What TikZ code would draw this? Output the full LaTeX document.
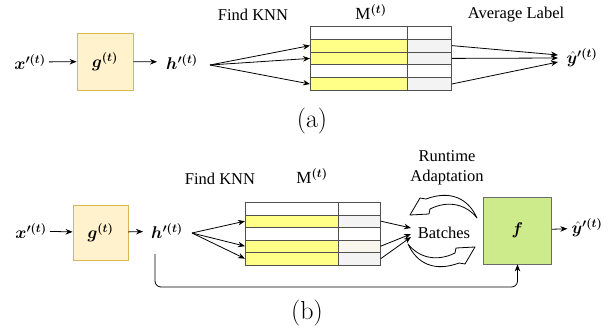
\RequirePackage{fix-cm}
\documentclass[tikz,border=0pt]{standalone}
\usepackage{fontspec}
\usepackage{bm}
\newfontfamily\tnr{Liberation Serif}
\usetikzlibrary{arrows.meta}
\definecolor{gfill}{HTML}{FFF2CC}
\definecolor{gborder}{HTML}{D6B656}
\definecolor{ffill}{HTML}{CDEB8B}
\definecolor{fborder}{HTML}{6B6B6B}
\definecolor{yel}{HTML}{FFFF88}
\definecolor{lgray}{HTML}{F3F3F3}
\definecolor{beige}{HTML}{F9F7ED}
\definecolor{cellline}{HTML}{505050}
\begin{document}
\begin{tikzpicture}[x=1pt,y=-1pt,
  lbl/.style={inner sep=0pt, font=\fontsize{17}{20}\selectfont},
  txt/.style={inner sep=0pt, font=\tnr\fontsize{16.5}{19}\selectfont},
  captxt/.style={inner sep=0pt, font=\fontsize{26}{30}\selectfont},
  arr/.style={-{Stealth[length=7pt,width=5.5pt]}, line width=0.8pt, black},
  gboxst/.style={draw=gborder, fill=gfill, line width=0.8pt, inner sep=0pt, font=\fontsize{17}{20}\selectfont},
  fboxst/.style={draw=fborder, fill=ffill, line width=0.8pt, inner sep=0pt, font=\fontsize{17}{20}\selectfont},
  cell/.style={draw=cellline, line width=0.8pt, inner sep=0pt, anchor=north west},
  curv/.style={draw=black, fill=white, line width=0.8pt, line join=round}]
\useasboundingbox (0,0) rectangle (611,335);

% ---------------- (a) ----------------
\node[lbl] (xa) at (30,62) {$\bm{x}^{\bm{\prime(t)}}$};
\node[gboxst, minimum width=56, minimum height=57] (ga) at (105,61.5) {$\bm{g}^{\bm{(t)}}$};
\node[lbl] (ha) at (182,62) {$\bm{h}^{\bm{\prime(t)}}$};
\draw[arr, shorten <=3pt] (xa) -- (ga);
\draw[arr, shorten >=9pt] (ga) -- (ha);

\node[txt] (knna) at (253,15) {Find KNN};
\node[lbl] (ma) at (371,12) {{\tnr M}$^{\bm{(t)}}$};
\node[txt] (avga) at (516,15) {Average Label};

\foreach \i/\y/\lf/\rf in {0/26/white/white, 1/38.8/yel/lgray, 2/51.6/yel/lgray, 3/64.4/white/white, 4/77.2/yel/lgray}{
  \node[cell, fill=\lf, minimum width=97, minimum height=12.8] (aL\i) at (310,\y) {};
  \node[cell, fill=\rf, minimum width=44, minimum height=12.8] (aR\i) at (407,\y) {};
}

\coordinate (hfa) at (210,65);
\draw[arr] (hfa) -- (aL1.west);
\draw[arr] (hfa) -- (aL2.west);
\draw[arr] (hfa) -- (aL4.west);

\coordinate (ya1) at (558,55);
\coordinate (ya2) at (558,58);
\coordinate (ya3) at (558,62);
\draw[arr] (aR1.east) -- (ya1);
\draw[arr] (aR2.east) -- (ya2);
\draw[arr] (aR4.east) -- (ya3);
\node[lbl] (yha) at (582,58) {$\bm{\hat{y}}^{\bm{\prime(t)}}$};

\node[captxt] (capa) at (312,121) {(a)};

% ---------------- (b) ----------------
\node[lbl] (xb) at (31,231) {$\bm{x}^{\bm{\prime(t)}}$};
\node[gboxst, minimum width=55, minimum height=55] (gb) at (100.5,232.5) {$\bm{g}^{\bm{(t)}}$};
\node[lbl] (hb) at (167,231) {$\bm{h}^{\bm{\prime(t)}}$};
\draw[arr, shorten <=3pt] (xb) -- (gb);
\draw[arr, shorten >=8pt] (gb) -- (hb);

\node[txt] (knnb) at (220,179) {Find KNN};
\node[lbl] (mb) at (312,176) {{\tnr M}$^{\bm{(t)}}$};

\foreach \i/\y/\lf/\rf in {0/202/white/white, 1/214.5/yel/lgray, 2/227/white/white, 3/239.5/yel/beige, 4/252/yel/lgray}{
  \node[cell, fill=\lf, minimum width=93, minimum height=12.5] (bL\i) at (245,\y) {};
  \node[cell, fill=\rf, minimum width=42, minimum height=12.5] (bR\i) at (338,\y) {};
}

\coordinate (hfb) at (192,233);
\draw[arr] (hfb) -- (bL1.west);
\draw[arr] (hfb) -- (bL3.west);
\draw[arr] (hfb) -- (bL4.west);

\node[txt] (bat) at (444,233) {Batches};
\node[txt, align=center, font=\tnr\fontsize{16.5}{20}\selectfont] (rta) at (447,168) {Runtime\\Adaptation};

\coordinate (bt1) at (411,228);
\coordinate (bt2) at (411,234);
\coordinate (bt3) at (411,237);
\draw[arr] (bR1.east) -- (bt1);
\draw[arr] (bR3.east) -- (bt2);
\draw[arr] (bR4.east) -- (bt3);

% curved hollow arrows
\path[curv] (477,218) .. controls (468,198) and (450,190) .. (426,199)
  -- (420,198) -- (410,215) -- (429,214) -- (430,209)
  .. controls (448,200) and (466,204) .. (477,218) -- cycle;
\begin{scope}[rotate around={180:(442.5,231)}]
\path[curv] (477,218) .. controls (468,198) and (450,190) .. (426,199)
  -- (420,198) -- (410,215) -- (429,214) -- (430,209)
  .. controls (448,200) and (466,204) .. (477,218) -- cycle;
\end{scope}

\node[fboxst, minimum width=68, minimum height=67] (fb) at (517.5,230.5) {$\bm{f}$};
\node[lbl] (yhb) at (587,228) {$\bm{\hat{y}}^{\bm{\prime(t)}}$};
\draw[arr, shorten >=4pt] (fb) -- (yhb);

\coordinate (hfb2) at (155,254);
\coordinate (fbc) at (517.5,287);
\draw[arr, rounded corners=6pt] (hfb2) |- (fbc) -- (fb.south);

\node[captxt] (capb) at (307,313) {(b)};
\end{tikzpicture}
\end{document}
